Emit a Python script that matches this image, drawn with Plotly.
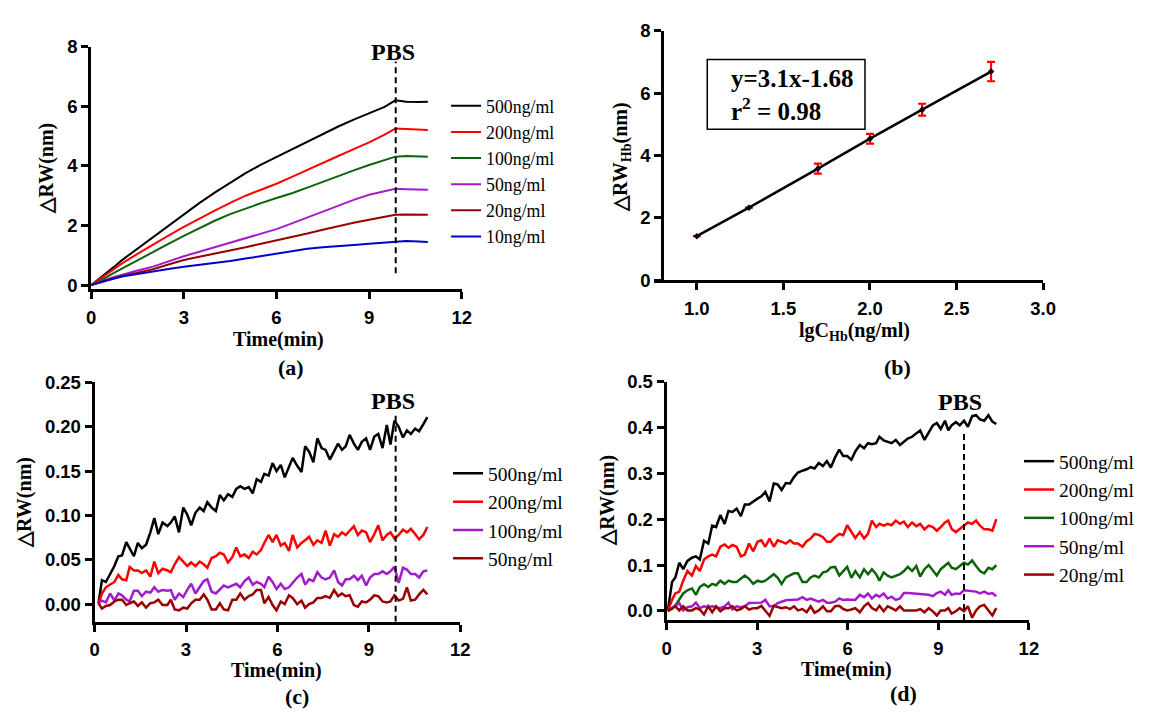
import plotly.graph_objects as go

W, H = 1163, 717

# ---------------- Panel (a) data ----------------
T_A = [0, 0.25, 0.5, 0.75, 1.0, 1.5, 2.0, 2.5, 3.0, 3.5, 4.0, 4.5, 5.0, 5.5, 6.0, 6.5,
       7.0, 7.5, 8.0, 8.5, 9.0, 9.5, 9.85, 10.2, 10.6, 10.9]
A_500 = [0, 0.2, 0.42, 0.62, 0.84, 1.22, 1.6, 2.0, 2.38, 2.75, 3.1, 3.44, 3.76, 4.04, 4.3, 4.56,
         4.82, 5.08, 5.32, 5.55, 5.77, 5.98, 6.2, 6.15, 6.14, 6.15]
A_200 = [0, 0.18, 0.36, 0.55, 0.73, 1.05, 1.36, 1.66, 1.95, 2.23, 2.5, 2.76, 3.0, 3.2, 3.4, 3.63,
         3.87, 4.1, 4.33, 4.56, 4.79, 5.05, 5.25, 5.24, 5.22, 5.2]
A_100 = [0, 0.13, 0.27, 0.42, 0.56, 0.84, 1.1, 1.38, 1.65, 1.91, 2.16, 2.38, 2.57, 2.75, 2.92, 3.08,
         3.27, 3.47, 3.66, 3.85, 4.03, 4.2, 4.31, 4.33, 4.32, 4.31]
A_50 = [0, 0.1, 0.19, 0.27, 0.35, 0.49, 0.62, 0.8, 0.97, 1.12, 1.27, 1.42, 1.57, 1.72, 1.88, 2.07,
        2.27, 2.47, 2.68, 2.86, 3.03, 3.16, 3.23, 3.22, 3.21, 3.2]
A_20 = [0, 0.09, 0.17, 0.24, 0.31, 0.42, 0.53, 0.69, 0.84, 0.95, 1.05, 1.16, 1.27, 1.39, 1.5, 1.6,
        1.73, 1.86, 1.98, 2.09, 2.19, 2.29, 2.36, 2.37, 2.37, 2.36]
A_10 = [0, 0.08, 0.16, 0.22, 0.29, 0.38, 0.46, 0.54, 0.62, 0.68, 0.73, 0.81, 0.89, 0.97, 1.05, 1.14,
        1.22, 1.27, 1.32, 1.35, 1.39, 1.43, 1.47, 1.48, 1.46, 1.45]
LABELS_A = ["500ng/ml", "200ng/ml", "100ng/ml", "50ng/ml", "20ng/ml", "10ng/ml"]

# ---------------- Panel (b) data ----------------
X_B = [1.0, 1.301, 1.699, 2.0, 2.301, 2.699]
Y_B = [1.415, 2.33, 3.58, 4.54, 5.47, 6.69]
ERR_B = [0.0, 0.0, 0.16, 0.155, 0.19, 0.31]
FIT_TEXT = "y=3.1x-1.68<br>r<sup>2</sup> = 0.98"

# ---------------- Panel (c) data ----------------
T_C = [0.13, 0.24, 0.37, 0.51, 0.65, 0.78, 0.9, 1.04, 1.15, 1.29, 1.42, 1.55, 1.69, 1.83, 1.96, 2.09,
       2.23, 2.39, 2.5, 2.63, 2.77, 2.91, 3.04, 3.17, 3.31, 3.45, 3.58, 3.7, 3.84, 3.98, 4.11, 4.24,
       4.38, 4.52, 4.65, 4.78, 4.92, 5.06, 5.19, 5.32, 5.46, 5.57, 5.71, 5.84, 5.97, 6.11,
       6.24, 6.38, 6.5, 6.65, 6.79, 6.91, 7.04, 7.18, 7.31, 7.45, 7.58, 7.72, 7.86, 7.99, 8.12, 8.24,
       8.37, 8.51, 8.64, 8.77, 8.91, 9.04, 9.18, 9.31, 9.45, 9.59, 9.71, 9.84, 9.98, 10.12, 10.25,
       10.38, 10.52, 10.65, 10.79, 10.92]
C_500 = [0.001, 0.027, 0.025, 0.034, 0.043, 0.054, 0.055, 0.07, 0.063, 0.054,
         0.069, 0.063, 0.067, 0.081, 0.097, 0.079, 0.092, 0.088, 0.092, 0.099,
         0.081, 0.109, 0.101, 0.089, 0.103, 0.109, 0.105, 0.115, 0.109, 0.105,
         0.123, 0.117, 0.124, 0.121, 0.13, 0.133, 0.13, 0.132, 0.125, 0.141,
         0.138, 0.147, 0.145, 0.159, 0.15, 0.157,
         0.143, 0.154, 0.165, 0.156, 0.149, 0.178, 0.172, 0.16, 0.187, 0.176,
         0.174, 0.163, 0.172, 0.181, 0.174, 0.178, 0.191, 0.181, 0.174, 0.183,
         0.187, 0.174, 0.189, 0.192, 0.176, 0.202, 0.18, 0.207, 0.2, 0.188,
         0.196, 0.192, 0.198, 0.195, 0.203, 0.211]
C_200 = [0.0, 0.012, 0.019, 0.022, 0.025, 0.033, 0.028, 0.027, 0.042, 0.038,
         0.038, 0.035, 0.038, 0.031, 0.048, 0.035, 0.04, 0.038, 0.036, 0.045,
         0.053, 0.048, 0.043, 0.047, 0.043, 0.048, 0.045, 0.041, 0.052, 0.054,
         0.058, 0.056, 0.047, 0.053, 0.064, 0.054, 0.056, 0.052, 0.059, 0.056,
         0.061, 0.069, 0.078, 0.07, 0.078, 0.066,
         0.069, 0.06, 0.078, 0.064, 0.069, 0.072, 0.076, 0.067, 0.072, 0.069,
         0.083, 0.066, 0.079, 0.076, 0.081, 0.078, 0.083, 0.088, 0.078, 0.083,
         0.081, 0.07, 0.079, 0.089, 0.072, 0.078, 0.081, 0.074, 0.078, 0.084,
         0.081, 0.085, 0.079, 0.073, 0.078, 0.087]
C_100 = [0.001, 0.004, 0.002, 0.012, 0.004, 0.012, 0.01, 0.005, 0.003, 0.015,
         0.015, 0.009, 0.014, 0.013, 0.019, 0.014, 0.016, 0.015, 0.016, 0.005,
         0.012, 0.008, 0.016, 0.023, 0.012, 0.019, 0.026, 0.028, 0.014, 0.012,
         0.017, 0.021, 0.019, 0.021, 0.023, 0.019, 0.026, 0.03, 0.022, 0.025,
         0.023, 0.019, 0.031, 0.025, 0.017, 0.023,
         0.017, 0.019, 0.024, 0.03, 0.034, 0.022, 0.028, 0.026, 0.036, 0.03,
         0.028, 0.03, 0.038, 0.025, 0.021, 0.028, 0.028, 0.032, 0.027, 0.032,
         0.021, 0.03, 0.034, 0.034, 0.037, 0.034, 0.037, 0.042, 0.024, 0.041,
         0.039, 0.034, 0.034, 0.03, 0.037, 0.038]
C_50 = [0.001, -0.005, -0.002, -0.001, 0.003, 0.005, 0.005, -0.001, 0.001, 0.003,
        -0.002, 0.002, -0.004, 0.001, 0.002, 0.005, -0.001, -0.001, 0.005, -0.006,
        -0.007, -0.004, -0.005, 0.001, 0.005, 0.005, 0.011, 0.005, -0.006, -0.006,
        0.001, -0.006, -0.007, 0.005, 0.005, 0.012, 0.005, 0.009, 0.011, 0.016,
        0.016, 0.001, 0.008, -0.001, -0.007, 0.003,
        0.0, 0.01, 0.007, 0.0, 0.004, -0.004, 0.0, 0.002, 0.007, 0.007,
        0.009, 0.007, 0.016, 0.009, 0.012, 0.009, 0.01, -0.001, -0.003, 0.003,
        0.002, 0.005, 0.01, 0.009, 0.003, 0.002, 0.003, 0.01, 0.004, 0.006,
        0.019, 0.004, 0.005, 0.011, 0.016, 0.011]
LABELS_C = ["500ng/ml", "200ng/ml", "100ng/ml", "50ng/ml"]

# ---------------- Panel (d) data ----------------
T_D = [0.04, 0.18, 0.29, 0.42, 0.55, 0.69, 0.84, 0.97, 1.10, 1.24, 1.38, 1.51, 1.64, 1.78, 1.92,
       2.05, 2.18, 2.32, 2.46, 2.59, 2.73, 2.87, 3.01, 3.14, 3.27, 3.41, 3.55, 3.68, 3.81, 3.95,
       4.09, 4.22, 4.35, 4.5, 4.64, 4.77, 4.9, 5.04, 5.18, 5.31, 5.44, 5.58, 5.72, 5.85, 5.98,
       6.12,
       6.25, 6.4, 6.54, 6.67, 6.8, 6.94, 7.05, 7.19, 7.32, 7.45, 7.59, 7.73, 7.86, 7.99, 8.13,
       8.27, 8.4, 8.54, 8.68, 8.82, 8.95, 9.08, 9.22, 9.33, 9.44, 9.58, 9.71, 9.85, 9.98, 10.12,
       10.25, 10.38, 10.52, 10.66, 10.79, 10.92]
D_500 = [0.0, 0.063, 0.073, 0.105, 0.091, 0.109, 0.116, 0.119, 0.112, 0.153,
         0.147, 0.186, 0.183, 0.209, 0.19, 0.218, 0.216, 0.223, 0.207, 0.232,
         0.232, 0.239, 0.245, 0.25, 0.26, 0.239, 0.278, 0.276, 0.264, 0.279,
         0.278, 0.292, 0.302, 0.306, 0.309, 0.314, 0.311, 0.323, 0.316, 0.327,
         0.313, 0.335, 0.352, 0.338, 0.338,
         0.33,
         0.348, 0.362, 0.355, 0.366, 0.364, 0.366, 0.38, 0.372, 0.369, 0.366,
         0.373, 0.362, 0.369, 0.376, 0.38, 0.387, 0.394, 0.373, 0.39, 0.405,
         0.41, 0.397, 0.415, 0.394, 0.405, 0.412, 0.405, 0.415, 0.402, 0.425,
         0.427, 0.418, 0.415, 0.427, 0.413, 0.408]
D_200 = [0.0, 0.024, 0.038, 0.042, 0.066, 0.087, 0.077, 0.098, 0.087, 0.112,
         0.119, 0.123, 0.119, 0.14, 0.145, 0.138, 0.144, 0.14, 0.119, 0.123,
         0.147, 0.13, 0.151, 0.154, 0.14, 0.158, 0.14, 0.154, 0.151, 0.147,
         0.154, 0.147, 0.147, 0.14, 0.152, 0.158, 0.168, 0.166, 0.161, 0.151,
         0.151, 0.161, 0.168, 0.165, 0.187,
         0.172,
         0.159, 0.172, 0.158, 0.168, 0.197, 0.183, 0.19, 0.186, 0.19, 0.187,
         0.197, 0.19, 0.195, 0.183, 0.193, 0.185, 0.19, 0.178, 0.186, 0.183,
         0.175, 0.183, 0.193, 0.197, 0.179, 0.172, 0.179, 0.186, 0.193, 0.19,
         0.197, 0.186, 0.178, 0.178, 0.175, 0.2]
D_100 = [0.0, 0.004, 0.012, 0.026, 0.038, 0.045, 0.049, 0.035, 0.052, 0.058,
         0.052, 0.059, 0.056, 0.066, 0.059, 0.066, 0.063, 0.063, 0.07, 0.077,
         0.07, 0.059, 0.066, 0.063, 0.066, 0.073, 0.08, 0.072, 0.059, 0.073,
         0.077, 0.082, 0.082, 0.063, 0.063, 0.073, 0.077, 0.073, 0.084, 0.086,
         0.095, 0.096, 0.077, 0.087, 0.096,
         0.072,
         0.087, 0.073, 0.091, 0.08, 0.091, 0.08, 0.066, 0.084, 0.077, 0.073,
         0.077, 0.08, 0.087, 0.096, 0.087, 0.098, 0.075, 0.091, 0.1, 0.087,
         0.077, 0.091, 0.098, 0.105, 0.094, 0.091, 0.098, 0.105, 0.101, 0.11,
         0.098, 0.087, 0.082, 0.094, 0.091, 0.1]
D_50 = [0.0, 0.006, 0.012, 0.017, 0.001, 0.008, 0.01, 0.018, 0.006, 0.01,
        0.008, 0.01, 0.008, 0.006, 0.01, 0.018, 0.003, 0.01, 0.008, 0.01,
        0.017, 0.017, 0.018, 0.018, 0.024, 0.01, 0.01, 0.017, 0.02, 0.023,
        0.024, 0.024, 0.025, 0.03, 0.024, 0.027, 0.024, 0.02, 0.024, 0.018,
        0.018, 0.02, 0.027, 0.024, 0.025,
        0.025,
        0.024, 0.035, 0.03, 0.038, 0.027, 0.035, 0.031, 0.038, 0.027, 0.031,
        0.024, 0.027, 0.039, 0.039, 0.038, 0.038, 0.037, 0.035, 0.035, 0.032,
        0.039, 0.042, 0.035, 0.045, 0.035, 0.038, 0.037, 0.045, 0.044, 0.042,
        0.042, 0.038, 0.042, 0.037, 0.039, 0.032]
D_20 = [0.0, 0.006, 0.01, 0.001, 0.01, 0.001, 0.001, 0.006, 0.003, -0.008,
        0.01, -0.003, 0.01, -0.001, 0.006, 0.006, 0.01, 0.001, 0.004, 0.01,
        0.003, 0.006, 0.006, 0.011, 0.001, -0.011, 0.011, 0.008, 0.006, 0.008,
        0.004, 0.01, 0.001, 0.004, -0.003, 0.01, -0.004, 0.001, 0.01, -0.001,
        -0.001, 0.01, 0.011, 0.004, 0.001,
        0.003,
        0.006, -0.003, 0.01, 0.017, 0.006, 0.001, 0.011, -0.001, 0.01, 0.006,
        0.001, 0.01, 0.001, 0.001, 0.001, 0.001, 0.004, -0.003, 0.006, -0.001,
        -0.01, 0.001, 0.001, 0.006, -0.006, -0.001, 0.006, -0.001, 0.01, -0.015,
        0.001, 0.01, 0.013, 0.001, -0.01, 0.006]
LABELS_D = ["500ng/ml", "200ng/ml", "100ng/ml", "50ng/ml", "20ng/ml"]

# Tick values / labels
TICKS_T = [0, 3, 6, 9, 12]
TICKS_A_Y = [0, 2, 4, 6, 8]
TICKS_B_X = [1.0, 1.5, 2.0, 2.5, 3.0]
TICKS_B_XT = ["1.0", "1.5", "2.0", "2.5", "3.0"]
TICKS_C_Y = [0, 0.05, 0.10, 0.15, 0.20, 0.25]
TICKS_C_YT = ["0.00", "0.05", "0.10", "0.15", "0.20", "0.25"]
TICKS_D_Y = [0, 0.1, 0.2, 0.3, 0.4, 0.5]
TICKS_D_YT = ["0.0", "0.1", "0.2", "0.3", "0.4", "0.5"]

# PBS injection markers (time, top of dashed line, bottom of dashed line)
PBS_A = (9.86, 7.5, 0.4)
PBS_C = (9.88, 0.216, -0.02)
PBS_D = (9.85, 0.394, -0.02)

# ---------------- Styles ----------------
C_BLACK = "#000000"
C_RED = "#ff0000"
C_GREEN = "#0b640b"
C_PURPLE = "#a21ccc"
C_BROWN = "#990000"
C_BLUE = "#0000cd"

SERIF = "Liberation Serif"
SANS = "Liberation Sans"


def px(p):
    return p / W


def py(p):
    return 1 - p / H


def bold(labels):
    return ["<b>%s</b>" % s for s in labels]


fig = go.Figure()

for y, name, col in zip([A_500, A_200, A_100, A_50, A_20, A_10], LABELS_A,
                        [C_BLACK, C_RED, C_GREEN, C_PURPLE, C_BROWN, C_BLUE]):
    fig.add_trace(go.Scatter(x=T_A, y=y, name=name, mode="lines", line=dict(color=col, width=2),
                             xaxis="x", yaxis="y", legend="legend"))

fig.add_trace(go.Scatter(x=X_B, y=Y_B, mode="lines+markers", showlegend=False,
                         line=dict(color="black", width=2.5),
                         marker=dict(symbol="diamond", size=5, color="black"),
                         error_y=dict(type="data", array=ERR_B, color=C_RED, thickness=2.2, width=4),
                         xaxis="x2", yaxis="y2"))

for y, name, col in zip([C_500, C_200, C_100, C_50], LABELS_C, [C_BLACK, C_RED, C_PURPLE, C_BROWN]):
    fig.add_trace(go.Scatter(x=T_C, y=y, name=name, mode="lines", line=dict(color=col, width=2.5),
                             xaxis="x3", yaxis="y3", legend="legend2"))

for y, name, col in zip([D_500, D_200, D_100, D_50, D_20], LABELS_D,
                        [C_BLACK, C_RED, C_GREEN, C_PURPLE, C_BROWN]):
    fig.add_trace(go.Scatter(x=T_D, y=y, name=name, mode="lines", line=dict(color=col, width=2.5),
                             xaxis="x4", yaxis="y4", legend="legend3"))

tickfont = dict(family=SANS, size=18.5, color="black")
common = dict(showline=True, linecolor="black", linewidth=3, ticks="outside", ticklen=7,
              tickwidth=2.5, tickcolor="black", showgrid=False, zeroline=False, tickfont=tickfont)

legfont_a = dict(family=SERIF, size=17.8, color="black")
legfont_cd = dict(family=SERIF, size=19.5, color="black")

fig.update_layout(
    width=W, height=H, margin=dict(l=0, r=0, t=0, b=0),
    paper_bgcolor="white", plot_bgcolor="white",
    xaxis=dict(domain=[px(87.5), px(464)], range=[0, 12], tickvals=TICKS_T,
               ticktext=bold([str(v) for v in TICKS_T]), anchor="y", ticklabelstandoff=2, **common),
    yaxis=dict(domain=[py(286.7), py(36.7)], range=[-0.14, 8], tickvals=TICKS_A_Y,
               ticktext=bold([str(v) for v in TICKS_A_Y]), anchor="x", **common),
    xaxis2=dict(domain=[px(658.7), px(1054.5)], range=[0.75, 3.0], tickvals=TICKS_B_X,
                ticktext=bold(TICKS_B_XT), anchor="y2", ticklabelstandoff=2, **common),
    yaxis2=dict(domain=[py(277.5), py(20.3)], range=[0, 8], tickvals=TICKS_A_Y,
                ticktext=bold([str(v) for v in TICKS_A_Y]), anchor="free", position=px(667.5),
                **common),
    xaxis3=dict(domain=[px(91), px(462.4)], range=[0, 12], tickvals=TICKS_T,
                ticktext=bold([str(v) for v in TICKS_T]), anchor="y3", ticklabelstandoff=2, **common),
    yaxis3=dict(domain=[py(629.3), py(382.7)], range=[-0.02, 0.25], tickvals=TICKS_C_Y,
                ticktext=bold(TICKS_C_YT), anchor="x3", **common),
    xaxis4=dict(domain=[px(672), px(1040)], range=[0, 12], tickvals=TICKS_T,
                ticktext=bold([str(v) for v in TICKS_T]), anchor="y4", ticklabelstandoff=2, **common),
    yaxis4=dict(domain=[py(627.7), py(382)], range=[-0.0206, 0.5], tickvals=TICKS_D_Y,
                ticktext=bold(TICKS_D_YT), anchor="x4", **common),
    legend=dict(x=px(448), y=py(79), xanchor="left", yanchor="top", font=legfont_a,
                bgcolor="rgba(0,0,0,0)", borderwidth=0, itemwidth=30),
    legend2=dict(x=px(450), y=py(456.5), xanchor="left", yanchor="top", font=legfont_cd,
                 bgcolor="rgba(0,0,0,0)", borderwidth=0, itemwidth=30),
    legend3=dict(x=px(1030), y=py(444), xanchor="left", yanchor="top", font=legfont_cd,
                 bgcolor="rgba(0,0,0,0)", borderwidth=0, itemwidth=30),
)

# Dashed PBS lines
for (t, top, bot), xr, yr in [(PBS_A, "x", "y"), (PBS_C, "x3", "y3"), (PBS_D, "x4", "y4")]:
    fig.add_shape(type="line", x0=t, x1=t, y0=bot, y1=top, xref=xr, yref=yr,
                  line=dict(color="black", width=2, dash="6px,4px"))

# Fit text box (panel b)
fig.add_shape(type="rect", xref="paper", yref="paper", x0=px(713.3), x1=px(873.5),
              y0=py(121.7), y1=py(50), line=dict(color="black", width=1.5), fillcolor="white",
              layer="below")

ann = []


def text(x, y, s, size, angle=0, family=SERIF, xanchor="center", align="center"):
    ann.append(dict(x=px(x), y=py(y), xref="paper", yref="paper", text=s, showarrow=False,
                    font=dict(family=family, size=size, color="black"), textangle=angle,
                    xanchor=xanchor, yanchor="middle", align=align))


text(735, 86.7, "<b>" + FIT_TEXT + "</b>", 25, xanchor="left", align="left")

# PBS labels
text(394, 42, "<b>PBS</b>", 24)
text(394, 402, "<b>PBS</b>", 24)
text(970, 403, "<b>PBS</b>", 24)

# axis titles
text(277.5, 338, "<b>Time(min)</b>", 20)
text(275.5, 679, "<b>Time(min)</b>", 20)
text(855, 678, "<b>Time(min)</b>", 20)
text(862.5, 330, "<b>lgC<sub>Hb</sub>(ng/ml)</b>", 20)
text(42, 162, "<b>△RW(nm)</b>", 20, angle=-90)
text(19, 506, "<b>△RW(nm)</b>", 20, angle=-90)
text(612, 504, "<b>△RW(nm)</b>", 20, angle=-90)
text(626, 150, "<b>△RW<sub>Hb</sub>(nm)</b>", 20, angle=-90)

# panel labels
text(291, 367, "<b>(a)</b>", 22)
text(907, 367, "<b>(b)</b>", 22)
text(296.5, 706.5, "<b>(c)</b>", 22)
text(912.5, 703.5, "<b>(d)</b>", 22)

fig.update_layout(annotations=ann)
fig.write_html("out.html", config={"displayModeBar": False},
               post_script="document.body.style.margin='0px';")
